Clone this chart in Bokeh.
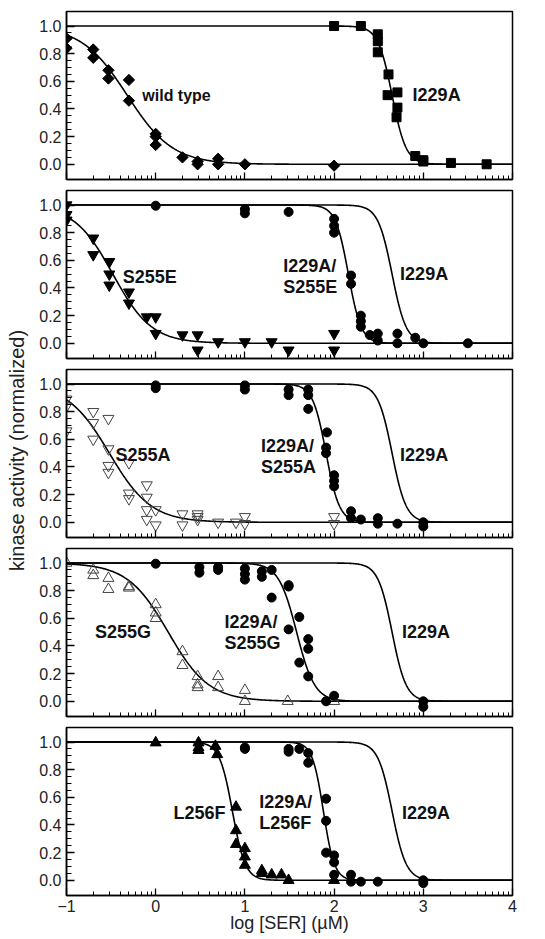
import numpy as np
from bokeh.plotting import figure
from bokeh.layouts import column, row
from bokeh.models import FixedTicker, Range1d
from bokeh.core.properties import value
from bokeh.embed import file_html
from bokeh.resources import INLINE

# ---------------- data (log10 [SER] in uM, normalized kinase activity) ----------------
X_TICKS = [-1, 0, 1, 2, 3, 4]
Y_TICKS = [0.0, 0.2, 0.4, 0.6, 0.8, 1.0]
Y_TICK_LABELS = ["0.0", "0.2", "0.4", "0.6", "0.8", "1.0"]

# panel 1
wt_x = [-1, -1, -0.70, -0.70, -0.53, -0.53, -0.30, -0.30, 0.0, 0.0, 0.0, 0.30, 0.47, 0.47, 0.70, 0.70, 1.0, 2.0]
wt_y = [0.91, 0.84, 0.83, 0.77, 0.68, 0.62, 0.61, 0.46, 0.22, 0.20, 0.14, 0.05, 0.02, 0.0, 0.04, 0.0, 0.0, -0.01]
i229a_x = [2.0, 2.30, 2.49, 2.49, 2.49, 2.61, 2.60, 2.71, 2.71, 2.70, 2.91, 3.0, 3.0, 3.31, 3.71]
i229a_y = [1.0, 1.0, 0.94, 0.89, 0.81, 0.65, 0.50, 0.52, 0.41, 0.34, 0.06, 0.03, 0.02, 0.01, 0.0]

# panel 2
s255e_x = [-1, -1, -1, -0.70, -0.70, -0.52, -0.52, -0.52, -0.30, -0.30, -0.10, 0.0, 0.0, 0.30, 0.47, 0.47, 0.70, 1.0, 1.30, 1.49, 2.0, 2.0]
s255e_y = [1.0, 0.93, 0.89, 0.76, 0.64, 0.59, 0.50, 0.42, 0.37, 0.29, 0.19, 0.19, 0.07, 0.06, 0.06, -0.05, 0.01, 0.01, 0.01, -0.05, 0.07, -0.05]
dbl_s255e_x = [0.0, 1.0, 1.0, 1.49, 2.0, 2.0, 2.0, 2.19, 2.19, 2.30, 2.30, 2.30, 2.40, 2.49, 2.49, 2.71, 2.71, 2.91, 3.0, 3.5]
dbl_s255e_y = [0.995, 0.97, 0.94, 0.95, 0.90, 0.85, 0.80, 0.49, 0.43, 0.20, 0.16, 0.12, 0.06, 0.07, 0.02, 0.07, 0.0, 0.04, 0.0, 0.0]

# panel 3
s255a_x = [-1, -1, -1, -0.70, -0.70, -0.70, -0.53, -0.53, -0.53, -0.53, -0.30, -0.30, -0.30, -0.10, -0.10, -0.10, -0.10,
           0.0, 0.0, 0.30, 0.30, 0.47, 0.47, 0.47, 0.70, 0.90, 1.0, 1.0, 2.0, 2.0]
s255a_y = [0.89, 0.84, 0.66, 0.80, 0.72, 0.60, 0.75, 0.53, 0.41, 0.36, 0.43, 0.21, 0.17, 0.27, 0.18, 0.09, 0.02,
           0.09, -0.02, 0.06, -0.02, 0.06, 0.04, 0.02, 0.0, 0.0, 0.04, -0.01, 0.04, -0.01]
dbl_s255a_x = [0.0, 0.0, 1.0, 1.0, 1.49, 1.49, 1.71, 1.71, 1.71, 1.92, 1.91, 1.91, 2.0, 2.0, 2.0, 2.19, 2.19, 2.30, 2.49, 2.49, 2.71, 3.0, 3.0]
dbl_s255a_y = [0.99, 0.97, 0.99, 0.96, 0.96, 0.92, 0.96, 0.92, 0.82, 0.65, 0.54, 0.50, 0.34, 0.30, 0.26, 0.08, 0.03, 0.02, 0.03, -0.01, -0.01, 0.0, -0.03]

# panel 4
s255g_x = [-1, -0.70, -0.70, -0.53, -0.53, -0.30, -0.30, 0.0, 0.0, 0.0, 0.30, 0.30, 0.47, 0.47, 0.47, 0.70, 0.70, 1.0, 1.0, 1.48, 2.0]
s255g_y = [1.0, 0.95, 0.91, 0.89, 0.81, 0.83, 0.82, 0.70, 0.64, 0.60, 0.36, 0.26, 0.18, 0.12, 0.10, 0.18, 0.10, 0.08, 0.0, 0.0, 0.0]
dbl_s255g_x = [0.0, 0.49, 0.49, 0.70, 0.70, 1.0, 1.0, 1.0, 1.19, 1.19, 1.30, 1.30, 1.49, 1.49, 1.61, 1.49, 1.71, 1.71, 1.61, 1.71, 1.91, 2.0, 3.0, 3.0]
dbl_s255g_y = [0.995, 0.97, 0.93, 0.97, 0.95, 0.96, 0.92, 0.88, 0.94, 0.90, 0.95, 0.75, 0.84, 0.83, 0.61, 0.52, 0.45, 0.38, 0.28, 0.18, 0.0, 0.04, 0.0, -0.04]

# panel 5
l256f_x = [0.0, 0.48, 0.48, 0.48, 0.67, 0.69, 0.90, 0.90, 0.90, 1.0, 1.0, 1.0, 1.19, 1.19, 1.30, 1.41, 1.49, 2.0]
l256f_y = [0.995, 0.995, 0.96, 0.94, 0.97, 0.91, 0.53, 0.36, 0.26, 0.23, 0.17, 0.11, 0.07, 0.05, 0.04, 0.04, 0.0, 0.0]
dbl_l256f_x = [1.0, 1.0, 1.49, 1.49, 1.61, 1.71, 1.71, 1.91, 1.91, 1.91, 2.0, 2.0, 2.0, 2.19, 2.19, 2.30, 2.49, 3.0, 3.0]
dbl_l256f_y = [0.96, 0.95, 0.95, 0.93, 0.95, 0.92, 0.85, 0.59, 0.43, 0.20, 0.18, 0.13, 0.04, 0.04, -0.01, -0.01, -0.01, 0.0, -0.02]

# fitted dose-response curves: log IC50 and Hill slope
fit_names = ["wild type", "I229A", "S255E", "I229A/S255E", "S255A", "I229A/S255A",
             "S255G", "I229A/S255G", "L256F", "I229A/L256F"]
fit_log_ic50 = [-0.32, 2.65, -0.48, 2.16, -0.52, 1.91, 0.14, 1.58, 0.86, 1.88]
fit_hill = [1.7, 5.5, 2.0, 6.0, 1.85, 5.8, 1.9, 4.3, 6.0, 7.0]
FIT = {n: (c, h) for n, c, h in zip(fit_names, fit_log_ic50, fit_hill)}

# ---------------- styling ----------------
FONT = "Liberation Sans"
TXT = "#222222"
x_minor = [d + np.log10(k) for d in range(-1, 4) for k in range(2, 10)]
y_minor = [round(v, 2) for v in np.arange(0.05, 1.0, 0.05) if round(v * 100) % 20 != 0]
x_curve = np.linspace(-1, 4, 600)


def hill(name):
    c, h = FIT[name]
    return 1.0 / (1.0 + 10 ** (h * (x_curve - c)))


panels = [
    dict(series=[("diamond", wt_x, wt_y, True), ("square", i229a_x, i229a_y, True)],
         curves=["wild type", "I229A"],
         labels=[("wild type", -0.15, 0.50, 16), ("I229A", 2.88, 0.50, 18)]),
    dict(series=[("inverted_triangle", s255e_x, s255e_y, True), ("circle", dbl_s255e_x, dbl_s255e_y, True)],
         curves=["S255E", "I229A/S255E", "I229A"],
         labels=[("S255E", -0.37, 0.48, 18), ("I229A/\nS255E", 1.43, 0.48, 18), ("I229A", 2.74, 0.50, 18)]),
    dict(series=[("inverted_triangle", s255a_x, s255a_y, False), ("circle", dbl_s255a_x, dbl_s255a_y, True)],
         curves=["S255A", "I229A/S255A", "I229A"],
         labels=[("S255A", -0.45, 0.49, 18), ("I229A/\nS255A", 1.18, 0.475, 18), ("I229A", 2.74, 0.49, 18)]),
    dict(series=[("triangle", s255g_x, s255g_y, False), ("circle", dbl_s255g_x, dbl_s255g_y, True)],
         curves=["S255G", "I229A/S255G", "I229A"],
         labels=[("S255G", -0.68, 0.50, 18), ("I229A/\nS255G", 0.77, 0.50, 18), ("I229A", 2.76, 0.50, 18)]),
    dict(series=[("triangle", l256f_x, l256f_y, True), ("circle", dbl_l256f_x, dbl_l256f_y, True)],
         curves=["L256F", "I229A/L256F", "I229A"],
         labels=[("L256F", 0.20, 0.49, 18), ("I229A/\nL256F", 1.16, 0.49, 18), ("I229A", 2.76, 0.49, 18)]),
]

MARKER_SIZE = {"diamond": 8, "square": 9, "circle": 9, "triangle": 11, "inverted_triangle": 11}

TOP1 = 11
GAP_T, GAP_B = 5, 6
LAST_B = 38
FRAME_H = 168

figs = []
for i, pan in enumerate(panels):
    last = i == len(panels) - 1
    p = figure(frame_width=446, frame_height=FRAME_H,
               x_range=Range1d(-1, 4), y_range=Range1d(-0.11, 1.105),
               output_backend="svg", toolbar_location=None,
               min_border_left=30, min_border_right=12,
               min_border_top=(TOP1 if i == 0 else GAP_T),
               min_border_bottom=(LAST_B if last else GAP_B))
    p.grid.visible = False
    p.outline_line_color = "black"
    p.outline_line_width = 1.5
    p.background_fill_color = "white"
    p.border_fill_color = "white"

    for ax in (p.xaxis[0], p.yaxis[0]):
        ax.axis_line_width = 1.5
        ax.axis_line_color = "black"
        ax.major_tick_line_width = 1.3
        ax.minor_tick_line_width = 1.0
        ax.major_tick_out = 0
        ax.minor_tick_out = 0
        ax.major_label_text_font = FONT
        ax.major_label_text_font_size = "16px"
        ax.major_label_text_color = TXT

    p.xaxis.ticker = FixedTicker(ticks=X_TICKS, minor_ticks=x_minor)
    p.xaxis.major_tick_in = 7
    p.xaxis.minor_tick_in = 4
    p.yaxis.ticker = FixedTicker(ticks=Y_TICKS, minor_ticks=y_minor)
    p.yaxis.major_label_overrides = {t: s for t, s in zip(Y_TICKS, Y_TICK_LABELS)}
    p.yaxis.major_tick_in = 8
    p.yaxis.minor_tick_in = 5
    p.yaxis.major_label_standoff = 5

    if last:
        p.xaxis.major_label_standoff = 4
        p.xaxis.axis_label = "log [SER] (\u00b5M)"
        p.xaxis.axis_label_text_font = FONT
        p.xaxis.axis_label_text_font_size = "18px"
        p.xaxis.axis_label_text_font_style = "normal"
        p.xaxis.axis_label_text_color = TXT
        p.xaxis.axis_label_standoff = -2
    else:
        p.xaxis.major_label_overrides = {t: "" for t in X_TICKS}
        p.xaxis.major_label_standoff = 0

    for name in pan["curves"]:
        p.line(x_curve, hill(name), line_color="black", line_width=1.6)

    for marker, xs, ys, filled in pan["series"]:
        kw = dict(size=MARKER_SIZE[marker], line_color="black")
        if marker == "diamond":
            kw.update(marker="square", angle=np.pi / 4)
        else:
            kw.update(marker=marker)
        if filled:
            kw.update(fill_color="black")
        else:
            kw.update(fill_color=None, line_color="#444444", line_width=1.0)
        p.scatter(xs, ys, **kw)

    for txt, lx, ly, fs in pan["labels"]:
        p.text([lx], [ly], text=[txt], text_font=value(FONT), text_font_style="bold",
               text_font_size=f"{fs}px", text_color="#111111",
               text_align="left", text_baseline="middle", text_line_height=1.05)
    figs.append(p)

ORIGIN = 2  # observed page offset of the layout
total_h = TOP1 + 5 * FRAME_H + 4 * (GAP_T + GAP_B) + LAST_B
LAB_W = 36
lab = figure(width=LAB_W, height=total_h,
             x_range=Range1d(ORIGIN, ORIGIN + LAB_W), y_range=Range1d(ORIGIN + total_h, ORIGIN),
             output_backend="svg", toolbar_location=None, x_axis_type=None, y_axis_type=None,
             min_border=0, min_border_left=0, min_border_right=0, min_border_top=0, min_border_bottom=0)
lab.outline_line_color = None
lab.grid.visible = False
lab.text([18], [452], text=["kinase activity (normalized)"], angle=np.pi / 2,
         text_font=value(FONT), text_font_size="20px", text_color=TXT,
         text_align="center", text_baseline="middle")

layout = row(lab, column(*figs, spacing=0), spacing=0)
open("out.html", "w").write(file_html(layout, INLINE))
